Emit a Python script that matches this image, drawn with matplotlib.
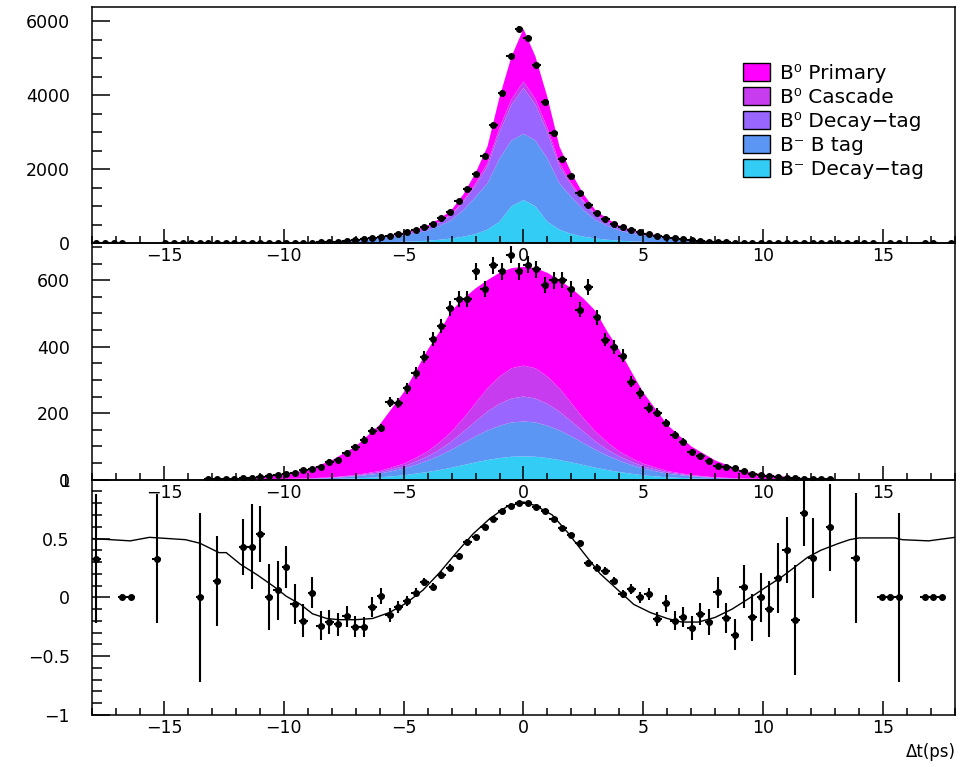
import numpy as np
import matplotlib
matplotlib.use("Agg")
import matplotlib.pyplot as plt
from matplotlib.patches import Patch
from matplotlib.ticker import MultipleLocator, FuncFormatter

plt.rcParams['font.family'] = ['DejaVu Sans']

# 100 bins of 0.36 ps between -18 and 18 ps
edges = np.linspace(-18, 18, 101)
centers = 0.5 * (edges[:-1] + edges[1:])
half_bin = 0.18

# component labels/colours, legend order (top of stack first)
labels = ["B⁰ Primary", "B⁰ Cascade", "B⁰ Decay−tag", "B⁻ B tag", "B⁻ Decay−tag"]
colors = ["#ff00ff", "#c83cf0", "#9966ff", "#5c96f5", "#33ccf5"]

# sample points of the MC shapes
fx = [-18, -14, -12, -10, -9, -8, -7, -6, -5, -4.5, -4, -3.5, -3, -2.5, -2, -1.5, -1, -0.5, 0,
      0.5, 1, 1.5, 2, 2.5, 3, 3.5, 4, 4.5, 5, 6, 7, 8, 9, 10, 12, 14, 18]

# top panel components
top_bdecay = [0, 0, 0, 2, 3, 6, 12, 22, 40, 52, 70, 95, 130, 180, 250, 370, 580, 1000, 1170,
              1000, 580, 370, 250, 180, 130, 95, 70, 52, 40, 22, 12, 6, 3, 2, 0, 0, 0]
top_btag = [0, 0, 2, 7, 15, 30, 56, 104, 169, 214, 275, 375, 500, 720, 1000, 1250, 1710, 1780, 1790,
            1780, 1710, 1250, 1000, 720, 500, 375, 275, 214, 169, 104, 56, 30, 15, 7, 2, 0, 0]
top_decay = [0, 0, 0.5, 1, 4, 7, 14, 26, 42, 54, 70, 100, 140, 220, 310, 460, 710, 970, 1240,
             970, 710, 460, 310, 220, 140, 100, 70, 54, 42, 26, 14, 7, 4, 1, 0.5, 0, 0]
top_cascade = [0, 0, 0.5, 1, 1, 2, 3, 5, 8, 10, 13, 17, 25, 40, 60, 90, 120, 150, 180,
               150, 120, 90, 60, 40, 25, 17, 13, 10, 8, 5, 3, 2, 1, 1, 0.5, 0, 0]
top_primary = [0, 0, 0, 1, 2, 5, 10, 18, 31, 40, 52, 73, 105, 170, 280, 450, 830, 1150, 1420,
               1150, 830, 450, 280, 170, 105, 73, 52, 40, 31, 18, 10, 5, 2, 1, 0, 0, 0]

# middle panel components
mid_bdecay = [0, 0, 0, 0, 1, 2, 4, 7, 13, 18, 23, 29, 36, 44, 52, 59, 65, 69, 70,
              69, 65, 59, 52, 44, 36, 29, 23, 18, 13, 7, 4, 2, 1, 0, 0, 0, 0]
mid_btag = [0, 0, 0, 1, 1, 3, 6, 11, 20, 26, 34, 43, 54, 66, 78, 89, 97, 103, 105,
            103, 97, 89, 78, 66, 54, 43, 34, 26, 20, 11, 6, 3, 1, 1, 0, 0, 0]
mid_decay = [0, 0, 0, 0.5, 1, 1, 2, 4, 7, 10, 13, 18, 25, 35, 45, 57, 66, 72, 75,
             72, 66, 57, 45, 35, 25, 18, 13, 10, 7, 4, 2, 1, 1, 0.5, 0, 0, 0]
mid_cascade = [0, 0, 0, 0.5, 1, 1, 2, 4, 8, 11, 15, 22, 30, 40, 55, 70, 82, 91, 93,
               91, 82, 70, 55, 40, 30, 22, 15, 11, 8, 4, 2, 1, 1, 0.5, 0, 0, 0]
mid_primary = [0, 0, 3, 13, 26, 51, 86, 139, 214, 260, 305, 333, 363, 360, 345, 325, 312, 301, 297,
               301, 312, 325, 345, 360, 363, 333, 305, 260, 214, 139, 86, 51, 26, 13, 3, 0, 0]

# data: entries per bin
top_counts = [1, 1, 1, 1, 0, 0, 0, 0, 1, 1,
              1, 2, 1, 2, 3, 2, 4, 4, 5, 7,
              8, 10, 12, 14, 17, 20, 25, 35, 45, 60,
              80, 110, 140, 170, 210, 250, 300, 360, 430, 530,
              675, 855, 1150, 1480, 1870, 2350, 3190, 4060, 5060, 5800,
              5560, 4830, 3830, 2970, 2280, 1830, 1370, 1040, 830, 645,
              530, 440, 370, 300, 250, 205, 170, 135, 105, 80,
              60, 45, 35, 26, 20, 16, 13, 11, 9, 7,
              6, 5, 4, 3, 3, 2, 2, 1, 1, 1,
              1, 0, 1, 1, 0, 0, 1, 1, 0, 1]
mid_counts = [0, 0, 0, 0, 0, 0, 0, 0, 0, 0,
              0, 0, 0, 1, 2, 2, 3, 4, 6, 9,
              11, 13, 16, 20, 29, 31, 39, 54, 59, 81,
              98, 120, 145, 155, 233, 230, 275, 320, 369, 423,
              463, 516, 543, 543, 626, 573, 644, 626, 677, 626,
              647, 632, 586, 599, 601, 573, 511, 580, 488, 421,
              399, 373, 295, 260, 215, 202, 170, 135, 114, 84,
              70, 55, 42, 38, 35, 25, 18, 13, 10, 7,
              5, 4, 3, 2, 2, 1, 0, 0, 0, 0,
              0, 0, 0, 0, 0, 0, 0, 0, 0, 0]

# asymmetry
asym_x = [-17.82, -16.74, -16.38, -15.30, -13.50, -12.78, -11.70, -11.34, -10.98, -10.62,
          -10.26, -9.90, -9.54, -9.18, -8.82, -8.46, -8.10, -7.74, -7.38, -7.02,
          -6.66, -6.30, -5.94, -5.58, -5.22, -4.86, -4.50, -4.14, -3.78, -3.42,
          -3.06, -2.70, -2.34, -1.98, -1.62, -1.26, -0.90, -0.54, -0.18, 0.18,
          0.54, 0.90, 1.26, 1.62, 1.98, 2.34, 2.70, 3.06, 3.42, 3.78,
          4.14, 4.50, 4.86, 5.22, 5.58, 5.94, 6.30, 6.66, 7.02, 7.38,
          7.74, 8.10, 8.46, 8.82, 9.18, 9.54, 9.90, 10.26, 10.62, 10.98,
          11.34, 11.70, 12.06, 12.78, 13.86, 14.94, 15.30, 15.66, 16.74, 17.10, 17.46]
asym_y = [0.33, 0, 0, 0.33, 0.0, 0.14, 0.43, 0.43, 0.54, 0.0,
          0.06, 0.26, -0.06, -0.20, 0.04, -0.24, -0.21, -0.23, -0.16, -0.25,
          -0.25, -0.085, 0.01, -0.15, -0.08, -0.03, 0.04, 0.13, 0.09, 0.19,
          0.25, 0.355, 0.47, 0.51, 0.60, 0.67, 0.73, 0.78, 0.80, 0.80,
          0.77, 0.73, 0.667, 0.588, 0.526, 0.46, 0.29, 0.25, 0.227, 0.142,
          0.029, 0.071, 0.0, 0.029, -0.184, -0.051, -0.198, -0.164, -0.26, -0.142,
          -0.21, 0.043, -0.175, -0.318, 0.091, -0.17, 0.0, -0.10, 0.165, 0.40,
          -0.193, 0.716, 0.335, 0.596, 0.335, 0, 0, 0, 0, 0, 0]
asym_err = [0.55, 0, 0, 0.55, 0.72, 0.38, 0.24, 0.36, 0.24, 0.28,
            0.25, 0.18, 0.17, 0.14, 0.13, 0.125, 0.10, 0.10, 0.09, 0.09,
            0.085, 0.085, 0.07, 0.06, 0.05, 0.045, 0.04, 0.035, 0.03, 0.03,
            0.03, 0.025, 0.025, 0.02, 0.02, 0.02, 0.02, 0.02, 0.02, 0.02,
            0.02, 0.02, 0.02, 0.02, 0.02, 0.025, 0.025, 0.03, 0.03, 0.03,
            0.035, 0.04, 0.045, 0.05, 0.06, 0.07, 0.08, 0.085, 0.10, 0.09,
            0.11, 0.13, 0.13, 0.13, 0.18, 0.20, 0.21, 0.24, 0.30, 0.28,
            0.47, 0.28, 0.34, 0.37, 0.55, 0, 0, 0.72, 0, 0, 0]

# fitted asymmetry curve
fit_x = [-18, -16.4, -15.6, -14.1, -13.5, -12.7, -12.4, -11.8, -11.1, -10.4, -9.9, -9.3, -8.8,
         -8.2, -7.7, -7.0, -6.3, -5.6, -4.9, -4.2, -3.5, -2.8, -2.1, -1.4, -0.7, 0.0, 0.5, 1.2,
         1.85, 2.5, 3.2, 3.9, 4.6, 5.3, 6.0, 6.6, 7.3, 8.0, 8.7, 9.4, 10.1, 10.75, 11.4, 11.85,
         12.4, 13.1, 13.6, 14.0, 15.5, 15.8, 16.9, 18]
fit_y = [0.50, 0.48, 0.51, 0.49, 0.46, 0.38, 0.38, 0.28, 0.19, 0.09, 0.01, -0.06, -0.14,
         -0.18, -0.19, -0.19, -0.18, -0.13, -0.05, 0.06, 0.21, 0.38, 0.54, 0.67, 0.77, 0.81, 0.78, 0.70,
         0.55, 0.38, 0.20, 0.07, -0.06, -0.13, -0.18, -0.21, -0.21, -0.17, -0.10, -0.01, 0.085, 0.17, 0.27, 0.34,
         0.40, 0.455, 0.49, 0.505, 0.505, 0.49, 0.48, 0.51]

fig = plt.figure(figsize=(9.67, 7.67), dpi=100)
left, width = 0.0951, 0.8925
ax_top = fig.add_axes([left, 0.6828, width, 0.3085])
ax_mid = fig.add_axes([left, 0.3746, width, 0.3083])
ax_bot = fig.add_axes([left, 0.0678, width, 0.3068])

fmt = FuncFormatter(lambda v, p: ('%g' % v).replace('-', '−'))

for ax in (ax_top, ax_mid, ax_bot):
    ax.set_facecolor('none')
    ax.set_xlim(-18, 18)
    ax.xaxis.set_major_locator(MultipleLocator(5))
    ax.xaxis.set_minor_locator(MultipleLocator(1))
    ax.tick_params(axis='x', which='major', direction='in', length=10, width=1.1, pad=3,
                   labelsize=12.5, top=False)
    ax.tick_params(axis='x', which='minor', direction='in', length=5, width=1.1, top=False)
    ax.tick_params(axis='y', which='major', direction='in', length=13, width=1.1, pad=16,
                   labelsize=12.5, right=False)
    ax.tick_params(axis='y', which='minor', direction='in', length=7, width=1.1, right=False)
    for s in ax.spines.values():
        s.set_linewidth(1.1)
    ax.yaxis.set_major_formatter(fmt)

# stack from bottom: B- Decay-tag, B- B tag, B0 Decay-tag, B0 Cascade, B0 Primary
stack_colors = colors[::-1]
ax_top.stackplot(fx, top_bdecay, top_btag, top_decay, top_cascade, top_primary,
                 colors=stack_colors, linewidth=0)
ax_mid.stackplot(fx, mid_bdecay, mid_btag, mid_decay, mid_cascade, mid_primary,
                 colors=stack_colors, linewidth=0)

for ax, counts in ((ax_top, top_counts), (ax_mid, mid_counts)):
    c = np.array(counts, dtype=float)
    m = c > 0
    ax.errorbar(centers[m], c[m], xerr=half_bin, yerr=np.sqrt(c[m]), fmt='o', ms=4,
                color='black', elinewidth=1.5, capsize=0)

ax_top.set_ylim(0, 6400)
ax_top.yaxis.set_major_locator(MultipleLocator(2000))
ax_top.yaxis.set_minor_locator(MultipleLocator(500))

ax_mid.set_ylim(0, 711)
ax_mid.yaxis.set_major_locator(MultipleLocator(200))
ax_mid.yaxis.set_minor_locator(MultipleLocator(50))

ax_bot.plot(fit_x, fit_y, color='black', lw=1.0)
ax_bot.errorbar(asym_x, asym_y, xerr=half_bin, yerr=asym_err, fmt='o', ms=4,
                color='black', elinewidth=1.5, capsize=0)
ax_bot.set_ylim(-1, 1)
ax_bot.yaxis.set_major_locator(MultipleLocator(0.5))
ax_bot.yaxis.set_minor_locator(MultipleLocator(0.1))

handles = [Patch(facecolor=c, edgecolor='black', linewidth=1.0) for c in colors]
ax_top.legend(handles, labels, loc='upper left', bbox_to_anchor=(0.745, 0.795), frameon=False,
              fontsize=14.5, handlelength=1.35, handleheight=1.0, handletextpad=0.5,
              labelspacing=0.2, borderaxespad=0)

fig.text(0.988, 0.02, 'Δt(ps)', ha='right', va='center', fontsize=12)

fig.savefig('out.png', dpi=100, facecolor='white')
